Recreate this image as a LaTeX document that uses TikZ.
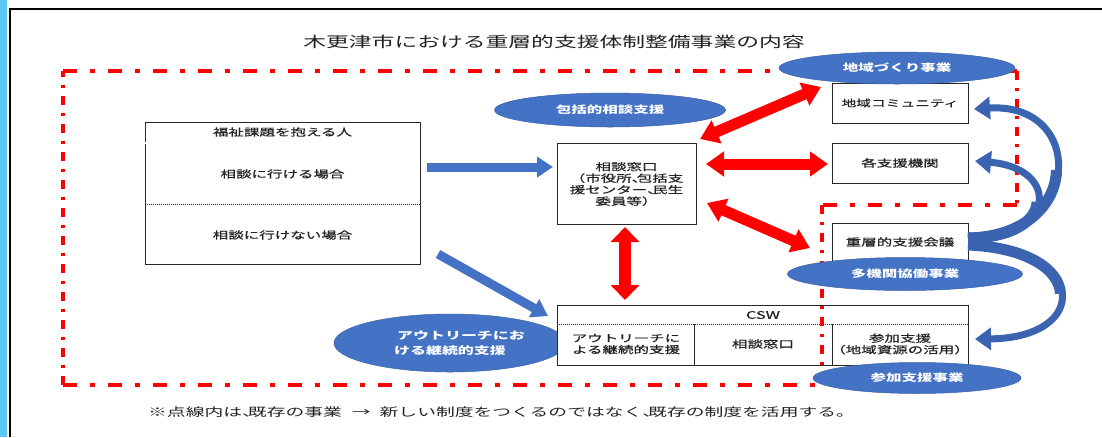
\documentclass[tikz,border=0pt]{standalone}
\usepackage{fontspec}
\newfontfamily\jp[FakeStretch=1.55]{Noto Sans CJK JP}
\newfontfamily\jpf[FakeStretch=1.62]{Noto Sans CJK JP}
\newfontfamily\jpm[FakeStretch=1.55,FakeBold=0.6]{Noto Sans CJK JP}
\usetikzlibrary{shapes.geometric,arrows.meta}
\definecolor{obl}{HTML}{4472C4}
\definecolor{obd}{HTML}{3A64B0}
\definecolor{sky}{HTML}{5BC8F5}
\definecolor{txt}{HTML}{222222}
\newcommand{\hten}{\makebox[0.5em][l]{、}}
\begin{document}
\begin{tikzpicture}[x=1pt,y=-1pt,
  every node/.style={font=\jpm\fontsize{10}{11.5}\selectfont, text=txt, inner sep=0pt},
  bx/.style={draw=black!85, line width=0.9pt, fill=white},
  ell/.style={ellipse, fill=obl, draw=obl!85!black, line width=0.5pt, inner sep=0pt, text=white, font=\jp\bfseries\fontsize{10}{14}\selectfont},
  hd/.style={red, line width=3.5pt, dash pattern=on 14pt off 13pt on 5pt off 13pt},
  vd/.style={red, line width=3.5pt, dash pattern=on 9pt off 8pt on 3pt off 8pt},
  rarrow/.style={draw=red, line width=11pt, {Triangle[width=24pt,length=18pt]}-{Triangle[width=24pt,length=18pt]}},
  barrow/.style={draw=obl, line width=9pt, -{Triangle[width=20pt,length=16pt]}},
  carrow/.style={draw=obd, line width=7pt, -{Triangle[width=22pt,length=16pt]}},
  cbase/.style={draw=obd, line width=11pt},
  sep/.style={draw=black!85, line width=0.9pt},
  dotsep/.style={draw=black!85, line width=0.9pt, dash pattern=on 1pt off 1pt}
]
\useasboundingbox (0,0) rectangle (1102,437);
\fill[white] (0,0) rectangle (1102,437);
\fill[sky] (0,0) rectangle (6.5,437);
\draw[line width=2pt] (10,437) -- (10,9) -- (1102,9);

% title
\node[font=\jp\fontsize{14.7}{17}\selectfont] (title) at (554,42) {木更津市における重層的支援体制整備事業の内容};

% red dash-dot frame
\coordinate (f1) at (63,71);
\coordinate (f2) at (1017,71);
\coordinate (f3) at (1017,205);
\coordinate (f4) at (822,205);
\coordinate (f5) at (822,385);
\coordinate (f6) at (63,385);
\draw[hd] (f1) -- (f2);
\draw[vd] (f2) -- (f3);
\draw[hd] (f3) -- (f4);
\draw[vd] (f4) -- (f5);
\draw[hd] (f6) -- (f5);
\draw[vd] (f6) -- (f1);

% left box
\node[bx, minimum width=275pt, minimum height=142pt] (lbox) at (282.5,193) {};
\draw[sep, double, double distance=1.2pt, line width=0.6pt] (lbox.west |- 0,143) -- (lbox.east |- 0,143);
\draw[dotsep] (lbox.west |- 0,204) -- (lbox.east |- 0,204);
\node (lhead) at (282.5,132) {福祉課題を抱える人};
\node (lcan) at (282.5,174) {相談に行ける場合};
\node (lcannot) at (282.5,235) {相談に行けない場合};

% outreach ellipse (behind CSW box)
\node[ell, minimum width=232pt, minimum height=58pt, align=center, font=\jp\bfseries\fontsize{10.3}{15}\selectfont] (outr) at (450,343) {\hspace{22pt}アウトリーチにお\\ける継続的支援};

% center box
\node[bx, minimum width=139pt, minimum height=81pt] (mado) at (626.5,183.5) {};
\node[align=center] (madot) at (626.5,184) {相談窓口\\（市役所\hten 包括支\\援センター\hten 民生\\委員等）};

% right boxes
\node[bx, minimum width=136pt, minimum height=40pt] (comm) at (900,103) {};
\node[font=\jpm\fontsize{9.5}{11}\selectfont] (commt) at (900,103) {地域コミュニティ};
\node[bx, minimum width=136pt, minimum height=40pt] (kaku) at (900,163) {};
\node (kakut) at (900,163) {各支援機関};
\node[bx, minimum width=136pt, minimum height=41pt] (jus) at (900,243.5) {};
\node (just) at (900,242) {重層的支援会議};

% CSW box
\node[bx, minimum width=411pt, minimum height=60pt] (csw) at (762.5,335) {};
\draw[dotsep] (csw.west |- 0,324) -- (csw.east |- 0,324);
\draw[sep] (694,324) -- (694,324 |- csw.south);
\draw[sep] (832,324) -- (832,324 |- csw.south);
\node[font=\jpm\fontsize{10.5}{12}\selectfont] (cswt) at (763,315) {CSW};
\node[align=center] (cell1) at (626,344) {アウトリーチに\\よる継続的支援};
\node (cell2) at (763,344) {相談窓口};
\node[align=center] (cell3) at (900,344) {参加支援\\（地域資源の活用）};

% red vertical line through CSW (redraw over box)
\draw[vd] (f4) -- (f5);

% ellipses
\node[ell, minimum width=231pt, minimum height=34pt] (houk) at (610,110) {包括的相談支援};
\node[ell, minimum width=236pt, minimum height=32pt] (chiz) at (897,68) {地域づくり事業};
\node[ell, minimum width=235pt, minimum height=33pt] (taki) at (905,274) {多機関協働事業};
\node[ell, minimum width=208pt, minimum height=31pt] (sank) at (917,378) {参加支援事業};

% blue arrows
\coordinate (b1s) at (427,167);
\coordinate (b1e) at (553,167);
\draw[barrow] (b1s) -- (b1e);
\coordinate (b2s) at (438,254);
\coordinate (b2e) at (548,316);
\draw[barrow] (b2s) -- (b2e);

% red arrows
\coordinate (r1s) at (700,139);
\coordinate (r1e) at (821,87);
\draw[rarrow] (r1s) -- (r1e);
\coordinate (r2s) at (706,164);
\coordinate (r2e) at (828,164);
\draw[rarrow] (r2s) -- (r2e);
\coordinate (r3s) at (707,203);
\coordinate (r3e) at (810,248);
\draw[rarrow] (r3s) -- (r3e);
\coordinate (r4s) at (625,227);
\coordinate (r4e) at (625,300);
\draw[rarrow, {Triangle[width=28pt,length=15pt]}-{Triangle[width=28pt,length=15pt]}, line width=12pt] (r4s) -- (r4e);

% curved blue arrows (thicker trunk, thinner towards the head)
\coordinate (cs1) at (968,238);
\coordinate (cs2) at (968,245);
\draw[cbase, line cap=butt] (cs1) .. controls (1026.5,237) and (1055.75,203) .. (1056.5,170.1);
\draw[cbase, line cap=butt] (cs1) .. controls (1013,238) and (1036,220.5) .. (1037.1,202.1);
\draw[cbase, line cap=butt] (cs2) .. controls (1029,247.5) and (1059.5,270.75) .. (1060.4,293.5);
\draw[carrow] (cs1) .. controls (1085,236) and (1085,102) .. (974,109);
\draw[carrow] (cs1) .. controls (1058,238) and (1060,168) .. (975,161);
\draw[carrow] (cs2) .. controls (1090,250) and (1090,338) .. (975,339);

% footer
\node[anchor=west, font=\jpf\fontsize{11.6}{13}\selectfont] (foot) at (148,412) {※点線内は\hten 既存の事業\hspace{10pt}→\hspace{9pt}新しい制度をつくるのではなく\hten 既存の制度を活用する。};
\end{tikzpicture}
\end{document}
